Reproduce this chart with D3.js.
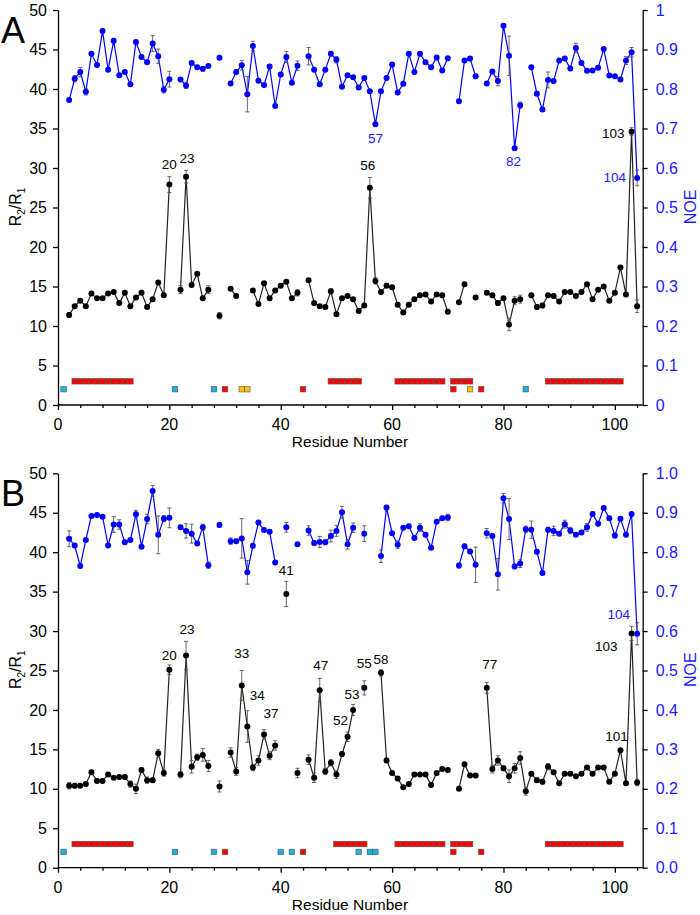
<!DOCTYPE html>
<html>
<head>
<meta charset="utf-8">
<script src="https://cdn.jsdelivr.net/npm/d3@7"></script>
<style>
  body { margin: 0; background: #fff; }
  svg { display: block; font-family: Arial, "Liberation Sans", sans-serif; }
</style>
</head>
<body>
<svg id="chart" width="700" height="915"></svg>
<script>
// residues 1..104 ; null = no measurement
var residues = d3.range(1, 105);

var r2r1A = [null,11.4,12.5,13.2,12.5,14.1,13.5,13.5,14.1,14.3, 12.9,14.2,12.5,13.6,14.2,12.4,13.4,15.5,13.9,27.9,
  null,14.6,28.9,15.2,16.6,13.5,14.6,null,11.3,null, 14.7,13.8,null,null,14.5,12.8,15.4,13.5,14.5,15.1,
  15.6,13.5,14.2,null,15.8,12.9,12.5,12.4,14.4,11.5, 13.5,13.8,13.4,11.9,12.6,27.5,15.7,14.3,15.1,14.9,
  12.7,11.7,12.7,13.4,13.9,14.0,13.1,14.0,13.9,11.8, null,13.0,15.3,null,13.6,null,14.2,13.9,12.9,13.5,
  10.2,13.2,13.4,null,13.9,12.4,12.6,13.9,13.8,13.1, 14.3,14.3,13.8,14.3,15.3,13.4,14.6,15.0,13.2,14.2,
  17.4,14.0,34.6,12.5];
var r2r1ErrA = [0,0.3,0.2,0.2,0.2,0.2,0.2,0.2,0.2,0.2, 0.2,0.2,0.2,0.2,0.2,0.2,0.2,0.2,0.2,1.0,
  0,0.5,0.8,0.2,0.2,0.2,0.5,0,0.4,0, 0.2,0.2,0,0,0.2,0.2,0.2,0.2,0.2,0.2,
  0.2,0.2,0.4,0,0.2,0.2,0.2,0.2,0.3,0.2, 0.2,0.2,0.2,0.2,0.2,1.3,0.4,0.2,0.2,0.2,
  0.2,0.2,0.2,0.2,0.2,0.2,0.2,0.2,0.2,0.2, 0,0.2,0.2,0,0.2,0,0.2,0.2,0.3,0.2,
  0.8,0.5,0.5,0,0.2,0.3,0.3,0.2,0.2,0.2, 0.2,0.2,0.2,0.2,0.2,0.2,0.2,0.2,0.2,0.2,
  0.2,0.2,0.5,0.8];
var noeA = [null,.772,.826,.843,.793,.889,.861,.947,.849,.922, .835,.843,.812,.919,.881,.868,.915,.883,.798,.825,
  null,.824,.809,.866,.855,.851,.858,null,.879,null, .814,.843,.860,.787,.909,.821,.810,.857,.757,.837,
  .881,.816,.859,null,.883,.849,.812,.849,.889,.874, .806,.835,.830,.804,.828,.794,.711,.794,.828,.862,
  .791,.813,.889,.843,.889,.868,.855,.880,.847,.878, null,.769,.872,.877,.832,null,.814,.844,.820,.960,
  .884,.650,.759,null,.855,.788,.748,.823,.820,.872, .877,.852,.904,.866,.846,.847,.854,.901,.834,.832,
  .824,.872,.893,.575];
var noeErrA = [0,.004,.008,.012,.008,.004,.004,.004,.004,.004, .004,.004,.004,.004,.004,.004,.02,.018,.008,.02,
  0,.004,.008,.004,.005,.006,.004,0,.004,0, .004,.004,.012,.045,.012,.004,.004,.004,.004,.004,
  .014,.004,.012,0,.022,.004,.004,.004,.005,.008, .004,.004,.004,.004,.004,.004,.004,.004,.004,.004,
  .004,.004,.004,.004,.004,.004,.004,.004,.004,.004, 0,.004,.004,.004,.004,0,.004,.004,.012,.004,
  .05,.004,.008,0,.004,.004,.004,.02,.004,.004, .004,.004,.012,.004,.004,.004,.004,.004,.004,.004,
  .004,.01,.012,.02];

var r2r1B = [null,10.4,10.4,10.4,10.6,12.1,11.0,11.0,11.8,11.4, 11.5,11.5,10.6,10.0,12.4,11.1,11.1,14.5,12.0,25.1,
  null,11.8,26.9,12.8,14.0,14.3,12.9,null,10.3,null, 14.6,12.2,23.1,17.9,12.7,13.6,16.9,14.2,15.5,null,
  34.7,null,12.0,null,13.7,11.4,22.5,12.2,13.3,11.8, 14.4,16.6,20.0,null,22.8,null,null,24.7,13.6,12.0,
  11.3,10.2,10.6,11.8,11.8,11.8,10.5,12.0,12.5,12.4, null,10.0,13.1,11.7,11.7,null,22.8,12.5,13.6,12.6,
  11.6,12.6,13.9,9.7,11.9,11.1,10.9,12.8,12.1,10.7, 11.9,11.9,11.6,11.9,12.7,11.9,12.7,12.7,10.9,11.9,
  14.9,10.7,29.7,10.8];
var r2r1ErrB = [0,0.4,0.3,0.2,0.2,0.2,0.2,0.2,0.2,0.2, 0.2,0.2,0.4,0.6,0.3,0.4,0.3,0.5,0.4,0.6,
  0,0.4,1.8,0.8,0.4,0.8,0.7,0,0.7,0, 0.6,0.5,1.9,2.0,0.4,0.6,0.6,0.5,0.6,0,
  1.6,0,0.6,0,0.6,0.6,1.5,0.4,0.4,0.5, 0.3,0.6,0.7,0,0.9,0,0,0.4,0.3,0.2,
  0.2,0.2,0.2,0.2,0.2,0.2,0.2,0.2,0.2,0.2, 0,0.2,0.2,0.2,0.2,0,0.7,0.5,0.6,0.3,
  0.8,0.6,0.8,0.5,0.2,0.3,0.3,0.4,0.2,0.2, 0.2,0.2,0.2,0.2,0.2,0.2,0.2,0.2,0.2,0.2,
  0.2,0.2,0.9,0.4];
var noeB = [null,.834,.817,.765,.831,.892,.894,.890,.817,.870, .870,.825,.831,.896,.814,.884,.955,.844,.885,.887,
  null,.863,.854,.847,.822,.863,.767,null,.869,null, .828,.828,.835,.749,.816,.875,.856,.852,.774,null,
  .863,null,.820,null,.855,.823,.826,.825,.841,.854, .901,.820,.862,null,.847,null,null,.790,.913,.848,
  .819,.862,.866,.836,.862,.844,.811,.877,.886,.888, null,.766,.815,.802,.768,null,.848,.841,.744,.937,
  .884,.764,.771,.858,.857,.801,.747,.857,.854,.847, .871,.855,.844,.850,.863,.897,.872,.912,.886,.842,
  .885,.844,.897,.593];
var noeErrB = [0,.02,.005,.004,.004,.004,.004,.004,.005,.02, .012,.004,.004,.01,.004,.012,.014,.048,.008,.025,
  0,.005,.018,.024,.005,.008,.008,0,.006,0, .008,.005,.05,.03,.005,.005,.004,.004,.004,0,
  .012,0,.004,0,.012,.006,.014,.006,.015,.014, .015,.012,.012,0,.02,0,0,.016,.004,.005,
  .01,.004,.005,.004,.01,.004,.004,.004,.005,.008, 0,.006,.005,.005,.045,0,.012,.005,.04,.012,
  .052,.006,.01,.008,.022,.005,.004,.006,.012,.005, .01,.008,.004,.004,.01,.005,.004,.004,.005,.006,
  .005,.005,.004,.028];

// secondary-structure / proline marker rows
var upperRowA = [3,4,5,6,7,8,9,10,11,12,13, 49,50,51,52,53,54, 61,62,63,64,65,66,67,68,69, 71,72,73,74,
  88,89,90,91,92,93,94,95,96,97,98,99,100,101];
var lowerRowA = [[1,"c"],[21,"c"],[28,"c"],[30,"r"],[33,"y"],[34,"y"],[44,"r"],[71,"r"],[74,"y"],[76,"r"],[84,"c"]];
var upperRowB = [3,4,5,6,7,8,9,10,11,12,13, 50,51,52,53,54,55, 61,62,63,64,65,66,67,68,69, 71,72,73,74,
  88,89,90,91,92,93,94,95,96,97,98,99,100,101];
var lowerRowB = [[1,"c"],[21,"c"],[28,"c"],[30,"r"],[40,"c"],[42,"c"],[44,"r"],[54,"c"],[56,"c"],[57,"c"],[71,"r"],[76,"r"]];

var leftTicks = [0,5,10,15,20,25,30,35,40,45,50];
var noeTicks = [0,0.1,0.2,0.3,0.4,0.5,0.6,0.7,0.8,0.9,1];
var xLabels = [0,20,40,60,80,100];

var BLUE = "#0000ff", BLUE_TXT = "#1a1aff";
var squareColor = {r: "#ff0000", c: "#1ab0e0", y: "#ffc000"};

var svg = d3.select("#chart");
var x = d3.scaleLinear().domain([0, 105]).range([58, 642.7]);

function drawPanel(p) {
  var g = svg.append("g");
  var y = d3.scaleLinear().domain([0, 50]).range([p.bottom, p.top]);
  var yn = d3.scaleLinear().domain([0, 1]).range([p.bottom, p.top]);

  // axes
  var ax = g.append("g").attr("transform", "translate(0," + p.bottom + ")")
    .call(d3.axisBottom(x).tickValues(d3.range(0, 105, 4)).tickSize(3).tickFormat(""));
  ax.selectAll(".tick line").filter(function(d) { return d % 20 === 0; }).attr("y2", 5);
  ax.select(".domain").attr("d", "M" + x(0) + ",0H" + x(105));
  g.append("g").attr("transform", "translate(0," + p.bottom + ")")
    .selectAll("text").data(xLabels).enter().append("text")
    .attr("x", function(d) { return x(d); }).attr("y", 25)
    .attr("text-anchor", "middle").attr("font-size", 16).text(function(d) { return d; });

  var ay = g.append("g").attr("transform", "translate(" + x(0) + ",0)")
    .call(d3.axisLeft(y).tickValues(leftTicks).tickSize(5).tickPadding(6).tickSizeOuter(0));
  ay.selectAll("text").attr("font-size", 16).attr("fill", "#000");

  var ar = g.append("g").attr("transform", "translate(" + x(105) + ",0)")
    .call(d3.axisRight(yn).tickValues(noeTicks).tickSize(5).tickPadding(8).tickSizeOuter(0)
      .tickFormat(p.noeFmt));
  ar.selectAll("text").attr("font-size", 16).attr("fill", BLUE_TXT);

  g.selectAll(".domain, .tick line").attr("stroke", "#000").attr("stroke-width", 1.3);

  // axis titles
  g.append("text").attr("x", 350).attr("y", p.bottom + 42).attr("text-anchor", "middle")
    .attr("font-size", 15.5).text("Residue Number");
  var lt = g.append("text").attr("transform", "translate(21," + (p.bottom - 198) + ") rotate(-90)")
    .attr("text-anchor", "middle").attr("font-size", 16);
  lt.append("tspan").text("R");
  lt.append("tspan").attr("font-size", 10).attr("dy", 4).text("2");
  lt.append("tspan").attr("dy", -4).text("/R");
  lt.append("tspan").attr("font-size", 10).attr("dy", 4).text("1");
  g.append("text").attr("transform", "translate(696," + (p.bottom - 198) + ") rotate(-90)")
    .attr("text-anchor", "middle").attr("font-size", 16).attr("fill", BLUE_TXT).text("NOE");
  g.append("text").attr("x", 1).attr("y", p.top + 33).attr("font-size", 36).text(p.letter);

  // marker rows
  var sq = 5.5;
  g.selectAll(".up").data(p.upper).enter().append("rect")
    .attr("x", function(d) { return x(d) - sq / 2; }).attr("y", y(3) - sq / 2)
    .attr("width", sq).attr("height", sq)
    .attr("fill", squareColor.r).attr("stroke", "#555").attr("stroke-width", 0.6);
  g.selectAll(".lo").data(p.lower).enter().append("rect")
    .attr("x", function(d) { return x(d[0]) - sq / 2; }).attr("y", y(2) - sq / 2)
    .attr("width", sq).attr("height", sq)
    .attr("fill", function(d) { return squareColor[d[1]]; }).attr("stroke", "#555").attr("stroke-width", 0.6);

  // series
  function series(vals, errs, sc, color, lineColor) {
    var pts = residues.map(function(r, i) { return {r: r, v: vals[i], e: errs[i]}; });
    var line = d3.line().defined(function(d) { return d.v !== null; })
      .x(function(d) { return x(d.r); }).y(function(d) { return sc(d.v); });
    g.append("path").datum(pts).attr("d", line).attr("fill", "none")
      .attr("stroke", lineColor).attr("stroke-width", 1.2);
    var have = pts.filter(function(d) { return d.v !== null; });
    var eb = g.append("g").attr("stroke", "#555").attr("stroke-width", 0.9);
    have.filter(function(d) { return d.e > 0; }).forEach(function(d) {
      var y1 = sc(d.v - d.e), y2 = sc(d.v + d.e), cx = x(d.r);
      eb.append("line").attr("x1", cx).attr("x2", cx).attr("y1", y1).attr("y2", y2);
      eb.append("line").attr("x1", cx - 2).attr("x2", cx + 2).attr("y1", y1).attr("y2", y1);
      eb.append("line").attr("x1", cx - 2).attr("x2", cx + 2).attr("y1", y2).attr("y2", y2);
    });
    g.append("g").selectAll("circle").data(have).enter().append("circle")
      .attr("cx", function(d) { return x(d.r); }).attr("cy", function(d) { return sc(d.v); })
      .attr("r", 3).attr("fill", color);
    return pts;
  }
  series(p.r2, p.r2e, y, "#000", "#222");
  series(p.noe, p.noee, yn, BLUE, BLUE);

  // residue labels
  p.labels.forEach(function(l) {
    var i = l.r - 1;
    var py = l.s === "n" ? yn(p.noe[i]) : y(p.r2[i]);
    g.append("text").attr("x", x(l.r) + l.dx).attr("y", py + l.dy)
      .attr("text-anchor", l.a || "middle").attr("font-size", 13.5)
      .attr("fill", l.s === "n" ? BLUE_TXT : "#000").text(l.r);
  });
}

drawPanel({
  letter: "A", top: 10, bottom: 405,
  r2: r2r1A, r2e: r2r1ErrA, noe: noeA, noee: noeErrA,
  upper: upperRowA, lower: lowerRowA,
  noeFmt: function(d) { return d === 0 || d === 1 ? d : d3.format(".1f")(d); },
  labels: [
    {r: 20, s: "r", dx: 0, dy: -16}, {r: 23, s: "r", dx: 1, dy: -14},
    {r: 56, s: "r", dx: -2, dy: -18}, {r: 103, s: "r", dx: -7, dy: 6, a: "end"},
    {r: 57, s: "n", dx: 0, dy: 19}, {r: 82, s: "n", dx: -1, dy: 18},
    {r: 104, s: "n", dx: -11, dy: 4, a: "end"}
  ]
});

drawPanel({
  letter: "B", top: 473.3, bottom: 867.7,
  r2: r2r1B, r2e: r2r1ErrB, noe: noeB, noee: noeErrB,
  upper: upperRowB, lower: lowerRowB,
  noeFmt: d3.format(".1f"),
  labels: [
    {r: 20, s: "r", dx: 0, dy: -10}, {r: 23, s: "r", dx: 1, dy: -22},
    {r: 33, s: "r", dx: 0, dy: -27}, {r: 34, s: "r", dx: 10, dy: -27},
    {r: 37, s: "r", dx: 7, dy: -16}, {r: 41, s: "r", dx: 0, dy: -19},
    {r: 47, s: "r", dx: 1, dy: -20}, {r: 52, s: "r", dx: -7, dy: -12},
    {r: 53, s: "r", dx: -1, dy: -11}, {r: 55, s: "r", dx: 0, dy: -20},
    {r: 58, s: "r", dx: 0, dy: -9}, {r: 77, s: "r", dx: 3, dy: -19},
    {r: 101, s: "r", dx: -4, dy: -9}, {r: 103, s: "r", dx: -14, dy: 18, a: "end"},
    {r: 104, s: "n", dx: -7, dy: -15, a: "end"}
  ]
});
</script>
</body>
</html>
